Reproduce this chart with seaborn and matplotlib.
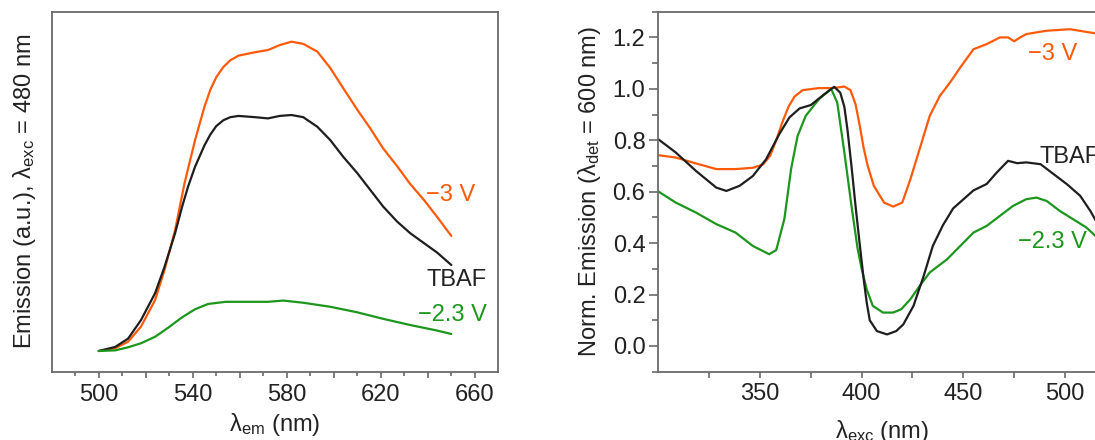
import numpy as np
import pandas as pd
import matplotlib
matplotlib.use('Agg')
import matplotlib.pyplot as plt
import seaborn as sns
from matplotlib.ticker import MultipleLocator, FixedLocator, FuncFormatter, NullLocator

# ---------------- data: left panel (emission spectra, lambda_exc = 480 nm) ----------------
em_wl_m3 = [500, 507, 512.5, 518, 524, 528, 532.5, 536.5, 541, 545, 547.5, 550, 553, 556, 559.5, 566.5,
            572, 577, 582, 587, 593, 598.5, 604, 610, 615.5, 621, 627, 632.5, 638.5, 644, 650]
em_m3 = [0, 0.009, 0.030, 0.079, 0.165, 0.262, 0.391, 0.542, 0.682, 0.790, 0.845, 0.885, 0.918, 0.940,
         0.955, 0.966, 0.973, 0.989, 1.0, 0.993, 0.968, 0.915, 0.85, 0.78, 0.72, 0.655, 0.597, 0.54,
         0.487, 0.433, 0.372]

em_wl_tbaf = [500, 507, 512.5, 518, 524, 528, 532.5, 535.5, 538, 541, 545, 547.5, 550, 553, 556, 559.5,
              566.5, 572, 577, 582, 587, 593, 598.5, 604, 610, 615.5, 621, 627, 632.5, 638.5, 644, 650]
em_tbaf = [0, 0.013, 0.040, 0.100, 0.187, 0.272, 0.381, 0.467, 0.531, 0.596, 0.665, 0.700, 0.727,
           0.746, 0.756, 0.760, 0.756, 0.752, 0.760, 0.763, 0.756, 0.725, 0.682, 0.628, 0.575, 0.521,
           0.467, 0.418, 0.381, 0.348, 0.318, 0.278]

em_wl_m23 = [500, 507, 512.5, 518, 524, 529.5, 535.5, 541, 546.5, 554, 562, 572, 578.5, 587, 598.5,
             610, 621, 632.5, 644, 650]
em_m23 = [0, 0.002, 0.012, 0.025, 0.046, 0.075, 0.109, 0.135, 0.152, 0.159, 0.159, 0.159, 0.163, 0.156,
          0.143, 0.125, 0.104, 0.084, 0.066, 0.055]

# ---------------- data: right panel (normalized excitation spectra, lambda_det = 600 nm) ----------------
ex_wl_m3 = [300, 308.5, 318.5, 328.5, 338, 346.5, 351.5, 355, 358, 361, 364, 367, 371, 379, 386, 391.5,
            394.5, 397, 399, 401, 403, 406, 411, 415.5, 420, 424, 429, 433.5, 438.5, 443.5, 448.5, 455,
            461.5, 468, 472, 475, 478, 481, 491, 502.5, 514, 520]
ex_m3 = [0.742, 0.733, 0.710, 0.688, 0.688, 0.693, 0.706, 0.74, 0.80, 0.87, 0.93, 0.97, 0.995, 1.003,
         1.003, 1.009, 0.995, 0.94, 0.86, 0.77, 0.70, 0.623, 0.558, 0.542, 0.558, 0.649, 0.778, 0.895,
         0.973, 1.025, 1.083, 1.154, 1.174, 1.200, 1.200, 1.185, 1.200, 1.213, 1.226, 1.232, 1.217, 1.21]

ex_wl_tbaf = [300, 308.5, 318.5, 328.5, 333.5, 340, 346.5, 353, 359.5, 364.5, 369.5, 375, 381, 386.5,
              389.5, 391.5, 393, 395, 397, 399, 401, 402.5, 404, 407.5, 412.5, 417, 420.5, 425.5, 430.5,
              435, 440, 445, 450, 455, 461.5, 466.5, 472, 476.5, 481, 488, 494.5, 501, 507.5, 512.5, 515, 520]
ex_tbaf = [0.804, 0.753, 0.681, 0.616, 0.603, 0.623, 0.661, 0.726, 0.824, 0.889, 0.924, 0.937, 0.975,
           1.008, 0.985, 0.93, 0.843, 0.70, 0.545, 0.40, 0.26, 0.169, 0.10, 0.058, 0.045, 0.058, 0.084,
           0.156, 0.272, 0.389, 0.47, 0.535, 0.57, 0.605, 0.630, 0.675, 0.720, 0.711, 0.714, 0.707, 0.668,
           0.629, 0.584, 0.525, 0.49, 0.42]

ex_wl_m23 = [300, 308.5, 318.5, 328.5, 338, 346.5, 354.5, 358, 362, 365.3, 368.5, 372.5, 379, 385, 388,
             391.5, 395, 398, 400, 402.5, 405.5, 410.5, 415.5, 419.5, 424, 428.5, 433.5, 442, 448.5, 455,
             461.5, 468, 474.5, 481, 486, 491, 497.5, 504, 510.5, 515, 520]
ex_m23 = [0.601, 0.558, 0.519, 0.474, 0.441, 0.389, 0.357, 0.373, 0.494, 0.688, 0.817, 0.895, 0.960,
          1.0, 0.947, 0.753, 0.545, 0.38, 0.30, 0.22, 0.156, 0.130, 0.130, 0.143, 0.182, 0.233, 0.286,
          0.337, 0.389, 0.441, 0.467, 0.506, 0.545, 0.571, 0.577, 0.564, 0.525, 0.493, 0.461, 0.428, 0.40]

labels = ['\u22123 V', 'TBAF', '\u22122.3 V']

# ---------------- style ----------------
sns.set_style('ticks')
plt.rcParams['font.family'] = ['Liberation Sans', 'DejaVu Sans']
plt.rcParams['mathtext.fontset'] = 'custom'
plt.rcParams['mathtext.rm'] = 'Liberation Sans'
plt.rcParams['mathtext.it'] = 'Liberation Sans:italic'
plt.rcParams['mathtext.default'] = 'regular'

C_OR = '#ff5a0a'
C_BK = '#1e1e1e'
C_GR = '#1c961c'
SP = '#6a6a6a'
TXT = '#222222'
FS = 17
LW = 1.6

fig = plt.figure(figsize=(10.95, 4.40), dpi=100)
axL = fig.add_axes([0.0472, 0.1552, 0.4079, 0.8182])
axR = fig.add_axes([0.6012, 0.1552, 0.4085, 0.8182])

for ax in (axL, axR):
    for s in ax.spines.values():
        s.set_color(SP)
        s.set_linewidth(1.3)

# left panel
sns.lineplot(x=em_wl_m3, y=em_m3, ax=axL, color=C_OR, lw=LW, estimator=None, sort=False)
sns.lineplot(x=em_wl_tbaf, y=em_tbaf, ax=axL, color=C_BK, lw=LW, estimator=None, sort=False)
sns.lineplot(x=em_wl_m23, y=em_m23, ax=axL, color=C_GR, lw=LW, estimator=None, sort=False)
axL.set_xlim(480, 670)
axL.set_ylim(-0.067, 1.097)
axL.xaxis.set_major_locator(FixedLocator([500, 520, 540, 560, 580, 600, 620, 640, 660]))
axL.xaxis.set_minor_locator(FixedLocator([490, 510, 530, 550, 570, 590, 610, 630, 650]))
axL.xaxis.set_major_formatter(FuncFormatter(lambda v, p: f'{v:.0f}' if int(round(v)) % 40 == 20 else ''))
axL.yaxis.set_major_locator(NullLocator())
axL.yaxis.set_minor_locator(NullLocator())
axL.tick_params(axis='x', which='major', direction='out', length=4.5, width=1.2, color=SP,
                labelsize=FS, labelcolor=TXT, pad=4)
axL.tick_params(axis='x', which='minor', direction='out', length=2.6, width=1.2, color=SP)
axL.set_xlabel(r'$\lambda_{em}$ (nm)', fontsize=FS, color=TXT, labelpad=4)
axL.set_ylabel(r'Emission (a.u.), $\lambda_{exc}$ = 480 nm', fontsize=FS, color=TXT, labelpad=10)
axL.text(639.1, 0.504, labels[0], color=C_OR, fontsize=FS, ha='left', va='center')
axL.text(639.5, 0.230, labels[1], color=TXT, fontsize=FS, ha='left', va='center')
axL.text(635.7, 0.116, labels[2], color=C_GR, fontsize=FS, ha='left', va='center')

# right panel
sns.lineplot(x=ex_wl_m3, y=ex_m3, ax=axR, color=C_OR, lw=LW, estimator=None, sort=False)
sns.lineplot(x=ex_wl_m23, y=ex_m23, ax=axR, color=C_GR, lw=LW, estimator=None, sort=False)
sns.lineplot(x=ex_wl_tbaf, y=ex_tbaf, ax=axR, color=C_BK, lw=LW, estimator=None, sort=False)
axR.set_xlim(300, 520)
axR.set_ylim(-0.1, 1.3)
axR.xaxis.set_major_locator(FixedLocator([350, 400, 450, 500]))
axR.xaxis.set_minor_locator(FixedLocator([325, 375, 425, 475]))
axR.yaxis.set_major_locator(MultipleLocator(0.2))
axR.yaxis.set_minor_locator(MultipleLocator(0.1))
axR.yaxis.set_major_formatter(FuncFormatter(lambda v, p: f'{v:.1f}'))
axR.tick_params(axis='x', which='both', direction='out', length=4.2, width=1.2, color=SP,
                labelsize=FS, labelcolor=TXT, pad=4)
axR.tick_params(axis='y', which='major', direction='out', length=6.3, width=1.2, color=SP,
                labelsize=FS, labelcolor=TXT, pad=3)
axR.tick_params(axis='y', which='minor', direction='out', length=4.5, width=1.2, color=SP)
axR.set_xlabel(r'$\lambda_{exc}$ (nm)', fontsize=FS, color=TXT, labelpad=9)
axR.set_ylabel(r'Norm. Emission ($\lambda_{det}$ = 600 nm)', fontsize=FS, color=TXT, labelpad=7)
axR.text(481.8, 1.135, labels[0], color=C_OR, fontsize=FS, ha='left', va='center')
axR.text(487.7, 0.736, labels[1], color=TXT, fontsize=FS, ha='left', va='center')
axR.text(476.9, 0.405, labels[2], color=C_GR, fontsize=FS, ha='left', va='center')

fig.savefig('out.png', dpi=100)
